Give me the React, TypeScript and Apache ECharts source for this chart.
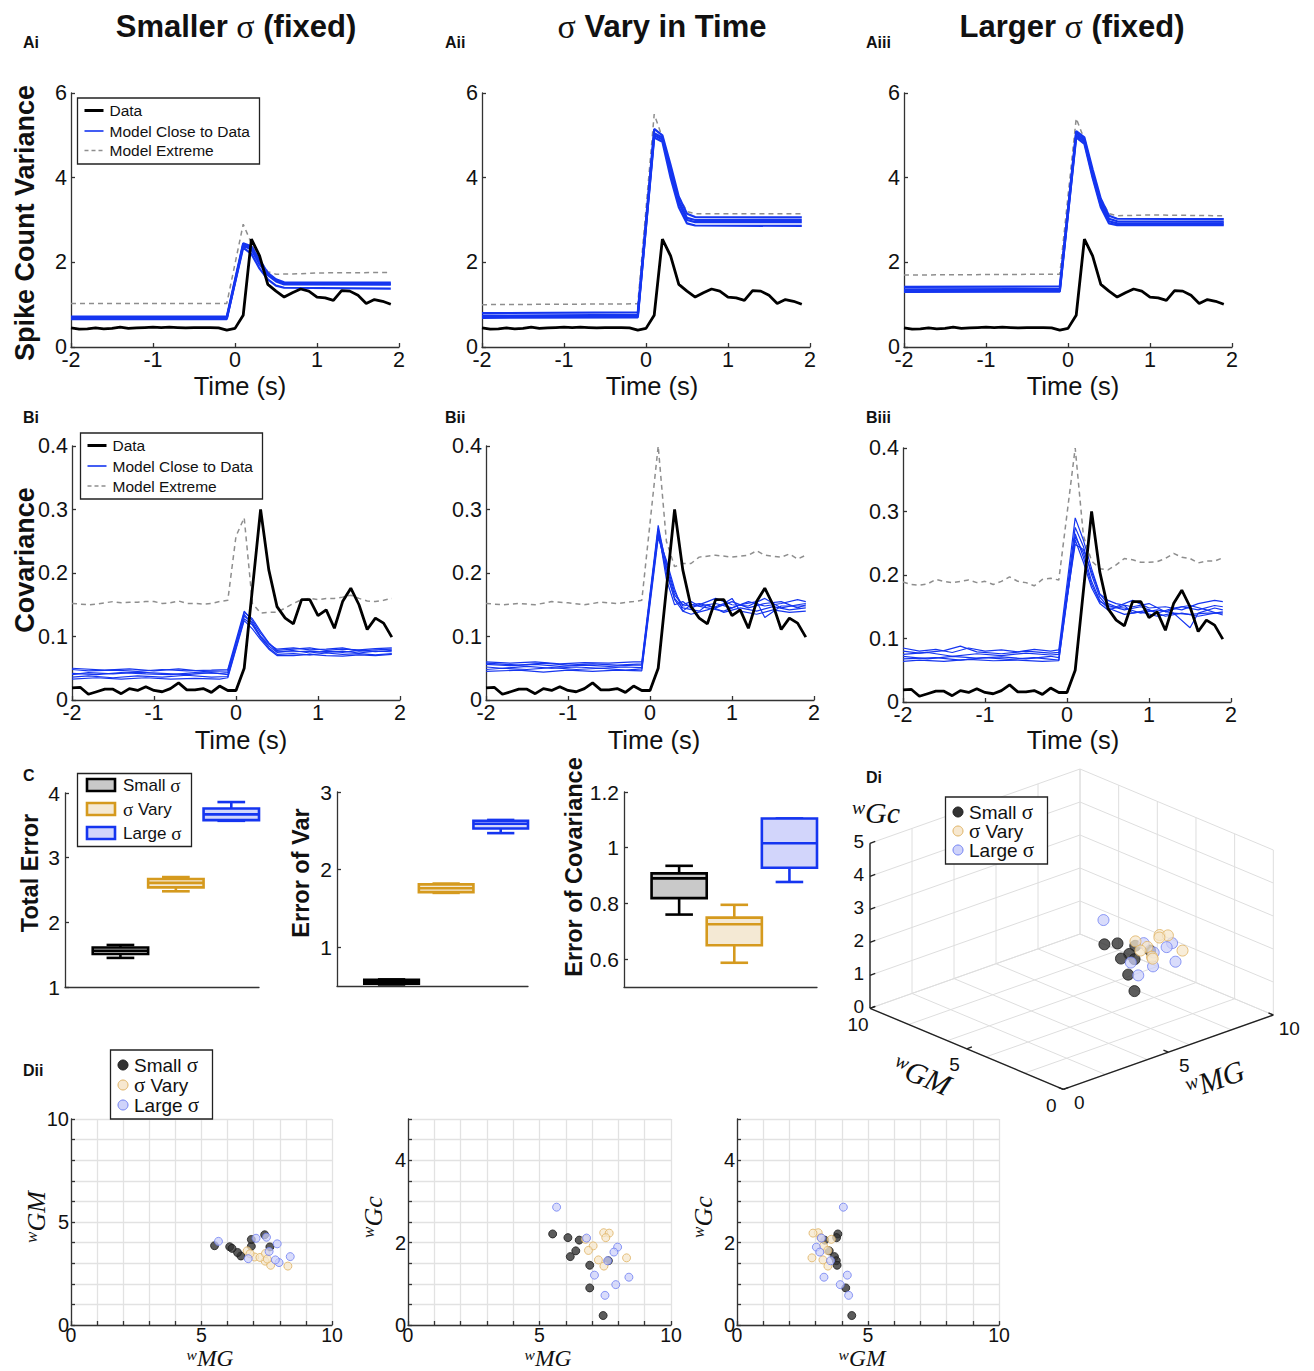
import React, { useEffect, useRef } from "react";
import * as echarts from "echarts";

const SANS = "'Liberation Sans', Arial, Helvetica, sans-serif";
const SERIF = "'Liberation Serif', 'Times New Roman', serif";

// ---------------- time axis & data ----------------
const TIME = [-2.0, -1.9, -1.8, -1.7, -1.6, -1.5, -1.4, -1.3, -1.2, -1.1, -1.0, -0.9, -0.8, -0.7, -0.6, -0.5, -0.4, -0.3, -0.2, -0.1,
  0.0, 0.1, 0.2, 0.3, 0.4, 0.5, 0.6, 0.7, 0.8, 0.9, 1.0, 1.1, 1.2, 1.3, 1.4, 1.5, 1.6, 1.7, 1.8, 1.9];

const VAR_DATA = [0.45, 0.42, 0.43, 0.45, 0.43, 0.44, 0.47, 0.44, 0.45, 0.46, 0.47, 0.46, 0.47, 0.46, 0.45, 0.46, 0.46, 0.46, 0.45, 0.40,
  0.44, 0.75, 2.55, 2.15, 1.48, 1.32, 1.18, 1.28, 1.37, 1.32, 1.18, 1.16, 1.10, 1.33, 1.32, 1.22, 1.03, 1.12, 1.08, 1.01];

const COV_DATA = [0.019, 0.02, 0.009, 0.013, 0.017, 0.017, 0.01, 0.018, 0.015, 0.021, 0.015, 0.013, 0.018, 0.027, 0.016, 0.016, 0.018, 0.012, 0.022, 0.015,
  0.015, 0.05, 0.175, 0.30, 0.205, 0.147, 0.129, 0.12, 0.158, 0.158, 0.133, 0.142, 0.113, 0.155, 0.176, 0.15, 0.111, 0.129, 0.121, 0.099];

// variance: model curves ([time, value] vertices)
const VAR_MODEL_SMALL = [
  [[-2, 0.72], [-0.1, 0.72], [0.1, 2.45], [0.2, 2.38], [0.3, 2.05], [0.4, 1.75], [0.5, 1.6], [0.6, 1.53], [0.8, 1.52], [1.9, 1.52]],
  [[-2, 0.66], [-0.1, 0.66], [0.1, 2.4], [0.2, 2.3], [0.3, 1.95], [0.4, 1.7], [0.5, 1.55], [0.6, 1.48], [1.9, 1.47]],
  [[-2, 0.69], [-0.1, 0.69], [0.1, 2.42], [0.2, 2.35], [0.3, 2.0], [0.4, 1.72], [0.5, 1.58], [0.6, 1.5], [1.9, 1.49]],
  [[-2, 0.68], [-0.1, 0.68], [0.1, 2.35], [0.2, 2.2], [0.3, 1.85], [0.4, 1.6], [0.5, 1.45], [0.6, 1.4], [1.9, 1.38]],
];
const VAR_EXTREME_SMALL = [[-2, 1.03], [-0.1, 1.03], [0.1, 2.9], [0.2, 2.45], [0.3, 2.05], [0.4, 1.78], [0.5, 1.72], [0.8, 1.73], [1.0, 1.75], [1.9, 1.76]];

const VAR_MODEL_VARY = [
  [[-2, 0.8], [-0.1, 0.82], [0.1, 5.15], [0.2, 5.0], [0.3, 4.3], [0.4, 3.55], [0.5, 3.15], [0.6, 3.07], [1.9, 3.06]],
  [[-2, 0.74], [-0.1, 0.76], [0.1, 5.05], [0.2, 4.95], [0.3, 4.2], [0.4, 3.45], [0.5, 3.05], [0.6, 3.0], [1.9, 3.0]],
  [[-2, 0.69], [-0.1, 0.7], [0.1, 5.0], [0.2, 4.9], [0.3, 4.15], [0.4, 3.4], [0.5, 3.0], [0.6, 2.95], [1.9, 2.95]],
  [[-2, 0.72], [-0.1, 0.73], [0.1, 4.95], [0.2, 4.85], [0.3, 4.0], [0.4, 3.3], [0.5, 2.92], [0.6, 2.87], [1.9, 2.86]],
];
const VAR_EXTREME_VARY = [[-2, 1.0], [-0.1, 1.02], [0.1, 5.5], [0.2, 4.95], [0.3, 4.2], [0.4, 3.55], [0.5, 3.2], [0.6, 3.15], [1.9, 3.15]];

const VAR_MODEL_LARGE = [
  [[-2, 1.42], [-0.1, 1.43], [0.1, 5.1], [0.2, 4.95], [0.3, 4.2], [0.4, 3.5], [0.5, 3.1], [0.6, 3.03], [1.9, 3.02]],
  [[-2, 1.36], [-0.1, 1.37], [0.1, 5.05], [0.2, 4.9], [0.3, 4.1], [0.4, 3.42], [0.5, 3.03], [0.6, 2.97], [1.9, 2.96]],
  [[-2, 1.3], [-0.1, 1.31], [0.1, 5.0], [0.2, 4.85], [0.3, 4.05], [0.4, 3.35], [0.5, 2.97], [0.6, 2.92], [1.9, 2.92]],
  [[-2, 1.33], [-0.1, 1.34], [0.1, 4.95], [0.2, 4.8], [0.3, 4.0], [0.4, 3.3], [0.5, 2.92], [0.6, 2.88], [1.9, 2.88]],
];
const VAR_EXTREME_LARGE = [[-2, 1.7], [-0.1, 1.72], [0.1, 5.4], [0.2, 4.9], [0.3, 4.15], [0.4, 3.5], [0.5, 3.15], [0.6, 3.1], [1.0, 3.12], [1.9, 3.1]];

// covariance: model curves
const COV_MODEL_SMALL = [
  [[-2, 0.048], [-1.8, 0.046], [-1.5, 0.047], [-1.2, 0.045], [-0.9, 0.048], [-0.6, 0.046], [-0.3, 0.047], [-0.1, 0.048], [0.1, 0.14], [0.2, 0.125], [0.3, 0.105], [0.4, 0.09], [0.5, 0.078], [0.7, 0.08], [0.9, 0.082], [1.1, 0.078], [1.3, 0.08], [1.5, 0.079], [1.7, 0.081], [1.9, 0.082]],
  [[-2, 0.042], [-1.7, 0.04], [-1.4, 0.043], [-1.1, 0.041], [-0.8, 0.04], [-0.5, 0.043], [-0.2, 0.042], [-0.1, 0.043], [0.1, 0.135], [0.2, 0.12], [0.3, 0.1], [0.4, 0.085], [0.5, 0.075], [0.7, 0.078], [0.9, 0.074], [1.1, 0.077], [1.3, 0.075], [1.5, 0.078], [1.7, 0.076], [1.9, 0.078]],
  [[-2, 0.036], [-1.8, 0.038], [-1.5, 0.035], [-1.2, 0.038], [-0.9, 0.036], [-0.6, 0.039], [-0.3, 0.036], [-0.1, 0.037], [0.1, 0.128], [0.2, 0.118], [0.3, 0.098], [0.4, 0.082], [0.5, 0.072], [0.7, 0.073], [0.9, 0.071], [1.1, 0.074], [1.3, 0.072], [1.5, 0.073], [1.7, 0.071], [1.9, 0.073]],
  [[-2, 0.05], [-1.6, 0.047], [-1.3, 0.049], [-1.0, 0.046], [-0.7, 0.049], [-0.4, 0.045], [-0.1, 0.046], [0.1, 0.132], [0.2, 0.122], [0.3, 0.1], [0.4, 0.088], [0.5, 0.08], [0.7, 0.082], [0.9, 0.079], [1.1, 0.08], [1.3, 0.082], [1.5, 0.077], [1.7, 0.079], [1.9, 0.08]],
  [[-2, 0.033], [-1.7, 0.035], [-1.4, 0.033], [-1.1, 0.035], [-0.8, 0.033], [-0.5, 0.034], [-0.2, 0.033], [-0.1, 0.035], [0.1, 0.125], [0.2, 0.112], [0.3, 0.095], [0.4, 0.08], [0.5, 0.07], [0.7, 0.07], [0.9, 0.072], [1.1, 0.07], [1.3, 0.069], [1.5, 0.071], [1.7, 0.07], [1.9, 0.072]],
  [[-2, 0.04], [-1.8, 0.043], [-1.5, 0.041], [-1.2, 0.044], [-0.9, 0.042], [-0.6, 0.04], [-0.3, 0.043], [-0.1, 0.04], [0.1, 0.138], [0.2, 0.128], [0.3, 0.108], [0.4, 0.09], [0.5, 0.076], [0.7, 0.076], [0.9, 0.077], [1.1, 0.075], [1.3, 0.077], [1.5, 0.074], [1.7, 0.077], [1.9, 0.076]],
];
const COV_EXTREME_SMALL = [[-2, 0.152], [-1.9, 0.151], [-1.8, 0.15], [-1.7, 0.151], [-1.6, 0.153], [-1.5, 0.155], [-1.4, 0.153], [-1.3, 0.154], [-1.2, 0.154], [-1.1, 0.155], [-1.0, 0.155], [-0.9, 0.152], [-0.8, 0.153], [-0.7, 0.156], [-0.6, 0.152], [-0.5, 0.152], [-0.4, 0.151], [-0.3, 0.152], [-0.2, 0.155], [-0.1, 0.157],
  [0, 0.258], [0.1, 0.287], [0.2, 0.152], [0.3, 0.137], [0.4, 0.138], [0.5, 0.138], [0.6, 0.145], [0.7, 0.152], [0.8, 0.158], [0.9, 0.16], [1.0, 0.158], [1.1, 0.16], [1.2, 0.16], [1.3, 0.162], [1.4, 0.165], [1.5, 0.16], [1.6, 0.156], [1.7, 0.155], [1.8, 0.157], [1.9, 0.16]];

const COV_MODEL_VARY = [
  [[-2, 0.06], [-1.7, 0.058], [-1.4, 0.06], [-1.1, 0.057], [-0.8, 0.059], [-0.5, 0.058], [-0.2, 0.06], [-0.1, 0.06], [0.1, 0.275], [0.2, 0.21], [0.3, 0.165], [0.4, 0.15], [0.5, 0.155], [0.6, 0.148], [0.8, 0.152], [1.0, 0.145], [1.2, 0.155], [1.4, 0.148], [1.6, 0.152], [1.8, 0.158], [1.9, 0.155]],
  [[-2, 0.052], [-1.8, 0.05], [-1.5, 0.053], [-1.2, 0.05], [-0.9, 0.052], [-0.6, 0.05], [-0.3, 0.052], [-0.1, 0.051], [0.1, 0.265], [0.2, 0.2], [0.3, 0.16], [0.4, 0.145], [0.6, 0.14], [0.7, 0.15], [0.9, 0.138], [1.1, 0.145], [1.3, 0.14], [1.5, 0.147], [1.7, 0.142], [1.9, 0.145]],
  [[-2, 0.045], [-1.6, 0.047], [-1.3, 0.044], [-1.0, 0.047], [-0.7, 0.045], [-0.4, 0.047], [-0.1, 0.046], [0.1, 0.255], [0.2, 0.22], [0.3, 0.175], [0.4, 0.14], [0.5, 0.135], [0.7, 0.142], [0.9, 0.152], [1.0, 0.16], [1.1, 0.14], [1.3, 0.135], [1.5, 0.142], [1.7, 0.138], [1.9, 0.14]],
  [[-2, 0.056], [-1.7, 0.054], [-1.4, 0.056], [-1.1, 0.053], [-0.8, 0.055], [-0.5, 0.053], [-0.2, 0.055], [-0.1, 0.055], [0.1, 0.27], [0.2, 0.19], [0.3, 0.15], [0.4, 0.155], [0.5, 0.145], [0.7, 0.155], [0.8, 0.16], [1.0, 0.15], [1.2, 0.148], [1.4, 0.16], [1.6, 0.145], [1.8, 0.15], [1.9, 0.152]],
  [[-2, 0.048], [-1.8, 0.05], [-1.5, 0.048], [-1.2, 0.051], [-0.9, 0.048], [-0.6, 0.05], [-0.3, 0.047], [-0.1, 0.049], [0.1, 0.26], [0.2, 0.205], [0.3, 0.158], [0.4, 0.14], [0.5, 0.15], [0.7, 0.145], [0.9, 0.14], [1.1, 0.15], [1.3, 0.155], [1.4, 0.13], [1.6, 0.148], [1.9, 0.148]],
  [[-2, 0.058], [-1.6, 0.055], [-1.3, 0.058], [-1.0, 0.055], [-0.7, 0.057], [-0.4, 0.055], [-0.1, 0.057], [0.1, 0.268], [0.2, 0.215], [0.3, 0.17], [0.4, 0.148], [0.6, 0.152], [0.8, 0.145], [1.0, 0.155], [1.2, 0.145], [1.4, 0.152], [1.6, 0.155], [1.8, 0.145], [1.9, 0.15]],
];
const COV_EXTREME_VARY = [[-2, 0.152], [-1.8, 0.15], [-1.6, 0.152], [-1.4, 0.15], [-1.2, 0.155], [-1.0, 0.153], [-0.8, 0.15], [-0.6, 0.154], [-0.4, 0.152], [-0.2, 0.155], [-0.1, 0.157],
  [0.1, 0.4], [0.2, 0.25], [0.3, 0.21], [0.4, 0.215], [0.5, 0.215], [0.6, 0.225], [0.8, 0.228], [1.0, 0.225], [1.2, 0.228], [1.3, 0.235], [1.4, 0.228], [1.6, 0.225], [1.7, 0.23], [1.8, 0.222], [1.9, 0.228]];

const COV_MODEL_LARGE = [
  [[-2, 0.085], [-1.8, 0.08], [-1.6, 0.083], [-1.4, 0.078], [-1.2, 0.085], [-1.0, 0.08], [-0.8, 0.082], [-0.6, 0.079], [-0.4, 0.083], [-0.2, 0.08], [-0.1, 0.082], [0.1, 0.29], [0.2, 0.255], [0.3, 0.21], [0.4, 0.17], [0.5, 0.155], [0.6, 0.15], [0.8, 0.16], [1.0, 0.148], [1.2, 0.15], [1.4, 0.145], [1.6, 0.155], [1.8, 0.16], [1.9, 0.158]],
  [[-2, 0.075], [-1.7, 0.078], [-1.4, 0.072], [-1.1, 0.076], [-0.8, 0.073], [-0.5, 0.077], [-0.2, 0.074], [-0.1, 0.075], [0.1, 0.275], [0.2, 0.245], [0.3, 0.2], [0.4, 0.165], [0.5, 0.15], [0.7, 0.148], [0.9, 0.14], [1.1, 0.145], [1.3, 0.14], [1.5, 0.117], [1.6, 0.14], [1.8, 0.148], [1.9, 0.145]],
  [[-2, 0.068], [-1.6, 0.07], [-1.3, 0.066], [-1.0, 0.07], [-0.7, 0.067], [-0.4, 0.07], [-0.1, 0.066], [0.1, 0.26], [0.2, 0.235], [0.3, 0.19], [0.4, 0.16], [0.5, 0.148], [0.7, 0.138], [0.9, 0.142], [1.1, 0.135], [1.3, 0.14], [1.5, 0.138], [1.7, 0.14], [1.9, 0.14]],
  [[-2, 0.08], [-1.8, 0.077], [-1.5, 0.081], [-1.3, 0.088], [-1.1, 0.079], [-0.8, 0.076], [-0.5, 0.08], [-0.2, 0.077], [-0.1, 0.078], [0.1, 0.248], [0.2, 0.24], [0.3, 0.205], [0.4, 0.17], [0.5, 0.16], [0.6, 0.155], [0.8, 0.15], [1.0, 0.155], [1.2, 0.142], [1.4, 0.15], [1.6, 0.145], [1.8, 0.152], [1.9, 0.15]],
  [[-2, 0.072], [-1.7, 0.068], [-1.4, 0.072], [-1.1, 0.069], [-0.8, 0.071], [-0.5, 0.068], [-0.2, 0.072], [-0.1, 0.07], [0.1, 0.265], [0.2, 0.228], [0.3, 0.185], [0.4, 0.158], [0.5, 0.152], [0.7, 0.145], [0.9, 0.15], [1.1, 0.14], [1.3, 0.148], [1.5, 0.152], [1.7, 0.145], [1.9, 0.137]],
  [[-2, 0.064], [-1.8, 0.066], [-1.5, 0.064], [-1.2, 0.067], [-0.9, 0.065], [-0.6, 0.066], [-0.3, 0.064], [-0.1, 0.065], [0.1, 0.255], [0.2, 0.22], [0.3, 0.18], [0.4, 0.155], [0.5, 0.145], [0.7, 0.152], [0.8, 0.14], [1.0, 0.145], [1.2, 0.135], [1.4, 0.14], [1.6, 0.135], [1.8, 0.14], [1.9, 0.142]],
];
const COV_EXTREME_LARGE = [[-2, 0.189], [-1.9, 0.185], [-1.8, 0.184], [-1.7, 0.186], [-1.6, 0.193], [-1.5, 0.19], [-1.4, 0.188], [-1.3, 0.19], [-1.2, 0.192], [-1.1, 0.188], [-1.0, 0.19], [-0.9, 0.185], [-0.8, 0.19], [-0.7, 0.197], [-0.6, 0.19], [-0.5, 0.188], [-0.4, 0.183], [-0.3, 0.193], [-0.2, 0.195], [-0.1, 0.192],
  [0.1, 0.4], [0.2, 0.262], [0.3, 0.222], [0.4, 0.21], [0.5, 0.208], [0.6, 0.216], [0.7, 0.226], [0.8, 0.224], [0.9, 0.22], [1.0, 0.22], [1.1, 0.221], [1.2, 0.226], [1.3, 0.234], [1.4, 0.228], [1.5, 0.226], [1.6, 0.219], [1.7, 0.222], [1.8, 0.222], [1.9, 0.227]];

// box plots: [min, q1, median, q3, max]
const TOTAL_ERR_SMALL = [1.45, 1.51, 1.56, 1.61, 1.65];
const TOTAL_ERR_VARY = [2.48, 2.54, 2.61, 2.67, 2.70];
const TOTAL_ERR_LARGE = [3.57, 3.58, 3.67, 3.76, 3.86];
const VAR_ERR_SMALL = [0.52, 0.53, 0.555, 0.58, 0.585];
const VAR_ERR_VARY = [1.70, 1.71, 1.76, 1.81, 1.82];
const VAR_ERR_LARGE = [2.47, 2.53, 2.59, 2.63, 2.64];
const COV_ERR_SMALL = [0.76, 0.819, 0.89, 0.908, 0.935];
const COV_ERR_VARY = [0.587, 0.65, 0.725, 0.749, 0.795];
const COV_ERR_LARGE = [0.877, 0.928, 1.016, 1.105, 1.105];

// fitted weights
const SMALL_MG = [5.50, 6.08, 6.51, 6.38, 6.17, 7.62, 6.91, 6.91, 7.42];
const SMALL_GM = [3.85, 3.80, 3.35, 3.52, 3.72, 3.79, 3.82, 4.15, 4.38];
const SMALL_GC = [2.21, 2.12, 2.06, 1.80, 1.66, 1.56, 1.45, 0.90, 0.23];
const VARY_MG = [7.44, 7.65, 6.75, 7.04, 6.86, 7.24, 7.45, 8.31, 7.52];
const VARY_GM = [3.10, 2.90, 3.60, 3.30, 3.46, 3.28, 3.47, 2.86, 3.20];
const VARY_GC = [2.24, 2.23, 2.08, 1.92, 1.81, 1.58, 1.43, 1.63, 2.12];
const LARGE_MG = [5.65, 6.79, 7.97, 7.83, 7.59, 7.09, 8.40, 7.90, 7.49];
const LARGE_GM = [4.06, 3.22, 3.03, 3.16, 3.57, 4.21, 3.32, 3.94, 4.26];
const LARGE_GC = [2.86, 2.11, 1.89, 1.77, 1.56, 1.21, 1.16, 0.98, 0.72];

const W_TICKS = [0, 2, 4, 6, 8, 10];
const GC_TICKS = [0, 1, 2, 3, 4, 5];
const W_LABELS = [0, 5, 10];

// ---------------- styles ----------------
const BLUE = "#1535f0";
const GREY = "#8e8e8e";
const BOX_STYLE = [
  { stroke: "#000000", fill: "#c9c9c9" },
  { stroke: "#d59a1e", fill: "#f4e9d4" },
  { stroke: "#1535f0", fill: "#d2d5fb" },
];
const DOT_STYLE = [
  { color: "#333333", borderColor: "#1a1a1a" },
  { color: "rgba(246,230,204,0.92)", borderColor: "#e0b363" },
  { color: "rgba(203,207,250,0.92)", borderColor: "#6f80f3" },
];

// 3D projection (oblique view of panel Di), in the hidden pixel-scaled grid
const PJ = { ox: 233.3, oy: 329.3, mgx: 21.0, mgy: -7.43, gmx: -19.33, gmy: -8.1, gcy: -33.0 };
const proj = (mg: number, gm: number, gc: number) => [
  PJ.ox + mg * PJ.mgx + gm * PJ.gmx,
  PJ.oy + mg * PJ.mgy + gm * PJ.gmy + gc * PJ.gcy,
];
const DI_LEFT = 830, DI_TOP = 760;

function buildOption() {
  const grids: any[] = [];
  const xAxes: any[] = [];
  const yAxes: any[] = [];
  const series: any[] = [];
  const graphics: any[] = [];

  const axisLineStyle = { color: "#333", width: 1.3 };
  const lbl = (size: number, extra: any = {}) => ({ fontSize: size, color: "#111", fontFamily: SANS, ...extra });

  const addGrid = (left: number, top: number, width: number, height: number) => {
    grids.push({ left, top, width, height, outerBoundsMode: "none", containLabel: false });
    return grids.length - 1;
  };

  // ---- A and B panels ----
  const A_POS = [[71, 93], [482, 93], [904, 93]];
  const B_POS = [[72, 446], [486, 446], [903, 448]];
  const VAR_MODELS = [VAR_MODEL_SMALL, VAR_MODEL_VARY, VAR_MODEL_LARGE];
  const VAR_EXTREMES = [VAR_EXTREME_SMALL, VAR_EXTREME_VARY, VAR_EXTREME_LARGE];
  const COV_MODELS = [COV_MODEL_SMALL, COV_MODEL_VARY, COV_MODEL_LARGE];
  const COV_EXTREMES = [COV_EXTREME_SMALL, COV_EXTREME_VARY, COV_EXTREME_LARGE];

  const timeXAxis = (gi: number) => ({
    type: "value", gridIndex: gi, min: -2, max: 2, interval: 1,
    axisLine: { show: true, lineStyle: axisLineStyle, onZero: false },
    axisTick: { show: true, inside: true, length: 4, lineStyle: axisLineStyle },
    axisLabel: lbl(21.5, { margin: 2 }),
    splitLine: { show: false },
  });

  const addTimePanel = (pos: number[], isVar: boolean, models: any[], extreme: any[], data: number[]) => {
    const gi = addGrid(pos[0], pos[1], 328, 254);
    xAxes.push(timeXAxis(gi));
    yAxes.push({
      type: "value", gridIndex: gi, min: 0, max: isVar ? 6 : 0.4, interval: isVar ? 2 : 0.1,
      axisLine: { show: true, lineStyle: axisLineStyle, onZero: false },
      axisTick: { show: true, inside: true, length: 4, lineStyle: axisLineStyle },
      axisLabel: lbl(21.5, { margin: 4, formatter: (v: number) => (isVar ? String(v) : v === 0 ? "0" : v.toFixed(1)) }),
      splitLine: { show: false },
    });
    series.push({
      type: "line", xAxisIndex: gi, yAxisIndex: gi, data: extreme, symbol: "none", silent: true,
      lineStyle: { color: GREY, width: 1.5, type: [5, 4] }, z: 2,
    });
    models.forEach((m: any) => {
      series.push({
        type: "line", xAxisIndex: gi, yAxisIndex: gi, data: m, symbol: "none", silent: true,
        lineStyle: { color: BLUE, width: isVar ? 2.2 : 1.2 }, z: 3,
      });
    });
    series.push({
      type: "line", xAxisIndex: gi, yAxisIndex: gi, data: TIME.map((t, i) => [t, data[i]]), symbol: "none", silent: true,
      lineStyle: { color: "#000", width: 2.8 }, z: 4,
    });
  };

  for (let p = 0; p < 3; p++) addTimePanel(A_POS[p], true, VAR_MODELS[p], VAR_EXTREMES[p], VAR_DATA);
  for (let p = 0; p < 3; p++) addTimePanel(B_POS[p], false, COV_MODELS[p], COV_EXTREMES[p], COV_DATA);

  // ---- C panels (box plots) ----
  const boxPanel = (left: number, top: number, w: number, h: number, ymin: number, ymax: number, ticks: number[], rows: number[][]) => {
    const gi = addGrid(left, top, w, h);
    xAxes.push({
      type: "value", gridIndex: gi, min: 0, max: 3.5,
      axisLine: { show: true, lineStyle: axisLineStyle }, axisTick: { show: false }, axisLabel: { show: false }, splitLine: { show: false },
    });
    yAxes.push({
      type: "value", gridIndex: gi, min: ymin, max: ymax,
      axisLine: { show: true, lineStyle: axisLineStyle, onZero: false },
      axisTick: { show: true, inside: true, length: 4, lineStyle: axisLineStyle, customValues: ticks },
      axisLabel: lbl(21, { margin: 5, customValues: ticks, formatter: (v: number) => String(Math.round(v * 10) / 10) }),
      splitLine: { show: false },
    });
    series.push({
      type: "custom", xAxisIndex: gi, yAxisIndex: gi, clip: false, silent: true,
      data: rows.map((r, i) => [i + 1, ...r, i]),
      renderItem: (params: any, api: any) => {
        const x = api.value(0);
        const s = BOX_STYLE[api.value(6)];
        const tl = api.coord([x - 0.5, api.value(4)]);
        const br = api.coord([x + 0.5, api.value(2)]);
        const top = api.coord([x, api.value(5)]);
        const bot = api.coord([x, api.value(1)]);
        const med = api.coord([x, api.value(3)]);
        const cl = api.coord([x - 0.25, ymin])[0];
        const cr = api.coord([x + 0.25, ymin])[0];
        const st = { stroke: s.stroke, lineWidth: 2.6, fill: null };
        return {
          type: "group",
          children: [
            { type: "line", shape: { x1: top[0], y1: top[1], x2: top[0], y2: tl[1] }, style: st },
            { type: "line", shape: { x1: bot[0], y1: br[1], x2: bot[0], y2: bot[1] }, style: st },
            { type: "line", shape: { x1: cl, y1: top[1], x2: cr, y2: top[1] }, style: st },
            { type: "line", shape: { x1: cl, y1: bot[1], x2: cr, y2: bot[1] }, style: st },
            { type: "rect", shape: { x: tl[0], y: tl[1], width: br[0] - tl[0], height: br[1] - tl[1] }, style: { fill: s.fill, stroke: s.stroke, lineWidth: 2.6 } },
            { type: "line", shape: { x1: tl[0], y1: med[1], x2: br[0], y2: med[1] }, style: st },
          ],
        };
      },
    });
  };
  boxPanel(65, 793, 194, 194, 1, 4, [1, 2, 3, 4], [TOTAL_ERR_SMALL, TOTAL_ERR_VARY, TOTAL_ERR_LARGE]);
  boxPanel(337, 792, 191, 194, 0.5, 3, [1, 2, 3], [VAR_ERR_SMALL, VAR_ERR_VARY, VAR_ERR_LARGE]);
  boxPanel(624, 792, 193, 195, 0.5, 1.2, [0.6, 0.8, 1, 1.2], [COV_ERR_SMALL, COV_ERR_VARY, COV_ERR_LARGE]);

  // ---- Di (3D projected) ----
  const gDi = addGrid(DI_LEFT, DI_TOP, 484, 360);
  xAxes.push({ type: "value", gridIndex: gDi, min: 0, max: 484, show: false });
  yAxes.push({ type: "value", gridIndex: gDi, min: 0, max: 360, inverse: true, show: false });
  const segs: number[][] = [];
  W_TICKS.forEach((v) => {
    segs.push([...proj(v, 0, 0), ...proj(v, 10, 0), 0]);
    segs.push([...proj(0, v, 0), ...proj(10, v, 0), 0]);
    segs.push([...proj(v, 10, 0), ...proj(v, 10, 5), 0]);
    segs.push([...proj(10, v, 0), ...proj(10, v, 5), 0]);
  });
  GC_TICKS.forEach((k) => {
    segs.push([...proj(0, 10, k), ...proj(10, 10, k), 0]);
    segs.push([...proj(10, 0, k), ...proj(10, 10, k), 0]);
  });
  segs.push([...proj(0, 10, 0), ...proj(0, 10, 5), 1]);
  segs.push([...proj(0, 10, 0), ...proj(0, 0, 0), 1]);
  segs.push([...proj(0, 0, 0), ...proj(10, 0, 0), 1]);
  GC_TICKS.forEach((k) => segs.push([...proj(0, 10, k), ...proj(0.25, 10, k), 1]));
  W_LABELS.forEach((v) => {
    segs.push([...proj(0, v, 0), ...proj(0.25, v, 0), 1]);
    segs.push([...proj(v, 0, 0), ...proj(v, 0.25, 0), 1]);
  });
  series.push({
    type: "custom", xAxisIndex: gDi, yAxisIndex: gDi, clip: false, silent: true, data: segs,
    renderItem: (params: any, api: any) => {
      const a = api.coord([api.value(0), api.value(1)]);
      const b = api.coord([api.value(2), api.value(3)]);
      const dark = api.value(4) === 1;
      return {
        type: "line", shape: { x1: a[0], y1: a[1], x2: b[0], y2: b[1] },
        style: { stroke: dark ? "#222" : "#dedede", lineWidth: dark ? 1.4 : 1 },
      };
    },
  });
  const groups = [
    [SMALL_MG, SMALL_GM, SMALL_GC, 0],
    [LARGE_MG, LARGE_GM, LARGE_GC, 2],
    [VARY_MG, VARY_GM, VARY_GC, 1],
  ];
  groups.forEach((g: any) => {
    series.push({
      type: "scatter", xAxisIndex: gDi, yAxisIndex: gDi, silent: true, symbol: "circle", symbolSize: 11,
      data: g[0].map((mg: number, i: number) => proj(mg, g[1][i], g[2][i])),
      itemStyle: { ...DOT_STYLE[g[3]], borderWidth: 1 }, z: 5,
    });
  });

  // ---- Dii 2D projections ----
  const dGrid = (left: number, width: number, ymax: number, yStep: number, yLabels: number[], xs: number, ys: number) => {
    const gi = addGrid(left, 1119, width, 206);
    const split = { show: true, lineStyle: { color: "#e2e2e2", width: 1.3 } };
    xAxes.push({
      type: "value", gridIndex: gi, min: 0, max: 10, interval: 1,
      axisLine: { show: true, lineStyle: axisLineStyle, onZero: false },
      axisTick: { show: true, inside: true, length: 4, lineStyle: axisLineStyle },
      axisLabel: lbl(19.5, { margin: 0, formatter: (v: number) => (W_LABELS.includes(v) ? String(v) : "") }),
      splitLine: split,
    });
    yAxes.push({
      type: "value", gridIndex: gi, min: 0, max: ymax, interval: yStep,
      axisLine: { show: true, lineStyle: axisLineStyle, onZero: false },
      axisTick: { show: true, inside: true, length: 4, lineStyle: axisLineStyle },
      axisLabel: lbl(20, { margin: 2, formatter: (v: number) => (yLabels.includes(v) ? String(v) : "") }),
      splitLine: split,
    });
    [[SMALL_MG, SMALL_GM, SMALL_GC, 0], [VARY_MG, VARY_GM, VARY_GC, 1], [LARGE_MG, LARGE_GM, LARGE_GC, 2]].forEach((g: any) => {
      series.push({
        type: "scatter", xAxisIndex: gi, yAxisIndex: gi, silent: true, symbol: "circle", symbolSize: 8,
        data: g[0].map((_: number, i: number) => [g[xs][i], g[ys][i]]),
        itemStyle: { ...DOT_STYLE[g[3]], borderWidth: 1 }, z: 5,
      });
    });
  };
  dGrid(71, 261, 10, 1, [0, 5, 10], 0, 1);
  dGrid(408, 263, 5, 0.5, [0, 2, 4], 0, 2);
  dGrid(737, 262, 5, 0.5, [0, 2, 4], 1, 2);

  // ---------------- graphics: titles, labels, legends ----------------
  const txt = (x: number, y: number, text: string, size: number, o: any = {}) => ({
    type: "text", x, y, rotation: o.rotation || 0, silent: true, z: 10,
    style: {
      text, fontSize: size, fontFamily: o.family || SANS, fontWeight: o.weight || "normal", fontStyle: o.style || "normal",
      fill: "#111", align: o.align || "center", verticalAlign: o.va || "middle", rich: o.rich,
    },
  });
  const titleRich = {
    b: { fontSize: 31, fontWeight: "bold", fontFamily: SANS, fill: "#111" },
    s: { fontSize: 34, fontFamily: SERIF, fill: "#111" },
  };
  graphics.push(txt(236, 26, "{b|Smaller }{s|σ}{b| (fixed)}", 31, { rich: titleRich }));
  graphics.push(txt(662, 26, "{s|σ}{b| Vary in Time}", 31, { rich: titleRich }));
  graphics.push(txt(1072, 26, "{b|Larger }{s|σ}{b| (fixed)}", 31, { rich: titleRich }));

  const panelLbl = (x: number, y: number, t: string) => graphics.push(txt(x, y, t, 16, { weight: "bold", align: "left" }));
  panelLbl(23, 42, "Ai"); panelLbl(445, 42, "Aii"); panelLbl(866, 42, "Aiii");
  panelLbl(23, 417, "Bi"); panelLbl(445, 417, "Bii"); panelLbl(866, 417, "Biii");
  panelLbl(23, 775, "C"); panelLbl(866, 777, "Di"); panelLbl(23, 1070, "Dii");

  graphics.push(txt(25, 223, "Spike Count Variance", 27, { weight: "bold", rotation: Math.PI / 2 }));
  graphics.push(txt(25, 560, "Covariance", 27, { weight: "bold", rotation: Math.PI / 2 }));
  [240, 652, 1073].forEach((x) => graphics.push(txt(x, 386, "Time (s)", 25.5)));
  [241, 654, 1073].forEach((x) => graphics.push(txt(x, 740, "Time (s)", 25.5)));
  graphics.push(txt(30, 873, "Total Error", 23.5, { weight: "bold", rotation: Math.PI / 2 }));
  graphics.push(txt(301, 873, "Error of Var", 23.5, { weight: "bold", rotation: Math.PI / 2 }));
  graphics.push(txt(574, 867, "Error of Covariance", 23.5, { weight: "bold", rotation: Math.PI / 2 }));

  // w-axis names
  const wName = (x: number, y: number, sub: string, rot = 0, size = 26) =>
    graphics.push(txt(x, y, "{w|w}{m|" + sub + "}", size, {
      rotation: rot,
      rich: {
        w: { fontSize: size * 0.66, fontStyle: "italic", fontFamily: SERIF, fill: "#111", verticalAlign: "top" },
        m: { fontSize: size, fontStyle: "italic", fontFamily: SERIF, fill: "#111" },
      },
    }));
  wName(36, 1217, "GM", Math.PI / 2);
  wName(373, 1217, "Gc", Math.PI / 2);
  wName(703, 1217, "Gc", Math.PI / 2);
  wName(210, 1358, "MG", 0, 23.5);
  wName(548, 1358, "MG", 0, 23.5);
  wName(862, 1358, "GM", 0, 23.5);
  wName(876, 812, "Gc", 0, 30);
  wName(922, 1075, "GM", -0.40, 30);
  wName(1215, 1079, "MG", 0.34, 30);

  // Di tick labels
  GC_TICKS.forEach((k) => {
    const p = proj(0, 10, k);
    graphics.push(txt(DI_LEFT + p[0] - 6, DI_TOP + p[1] - 2, String(k), 19, { align: "right" }));
  });
  W_LABELS.forEach((v) => {
    const a = proj(0, v, 0);
    graphics.push(txt(DI_LEFT + a[0] - 12, DI_TOP + a[1] + 16, String(v), 19));
    const b = proj(v, 0, 0);
    graphics.push(txt(DI_LEFT + b[0] + 16, DI_TOP + b[1] + 13, String(v), 19));
  });

  // Legends for A and B
  const lineLegend = (x: number, y: number, w: number, h: number, rows: number[]) => {
    graphics.push({ type: "rect", shape: { x, y, width: w, height: h }, style: { fill: "#fff", stroke: "#222", lineWidth: 1.3 }, z: 9, silent: true });
    const items = [
      { t: "Data", st: { stroke: "#000", lineWidth: 3 } },
      { t: "Model Close to Data", st: { stroke: BLUE, lineWidth: 1.6 } },
      { t: "Model Extreme", st: { stroke: GREY, lineWidth: 1.5, lineDash: [4, 3] } },
    ];
    items.forEach((it, i) => {
      graphics.push({ type: "line", shape: { x1: x + 7, y1: rows[i], x2: x + 26, y2: rows[i] }, style: it.st, z: 10, silent: true });
      graphics.push(txt(x + 32, rows[i], it.t, 15.5, { align: "left" }));
    });
  };
  lineLegend(77.5, 98, 182, 66, [110.5, 131, 150.5]);
  lineLegend(80.5, 433, 182, 66, [445.5, 466, 486]);

  const sigRich = {
    t: { fontSize: 17, fontFamily: SANS, fill: "#111" },
    s: { fontSize: 19, fontFamily: SERIF, fill: "#111" },
  };
  const names = ["{t|Small }{s|σ}", "{s|σ}{t| Vary}", "{t|Large }{s|σ}"];
  // C legend
  graphics.push({ type: "rect", shape: { x: 77.5, y: 773.5, width: 114, height: 73 }, style: { fill: "#fff", stroke: "#222", lineWidth: 1.3 }, z: 9, silent: true });
  [785, 809, 833].forEach((y, i) => {
    graphics.push({ type: "rect", shape: { x: 87, y: y - 6, width: 28, height: 12 }, style: { fill: BOX_STYLE[i].fill, stroke: BOX_STYLE[i].stroke, lineWidth: 2.6 }, z: 10, silent: true });
    graphics.push(txt(123, y, names[i], 17, { align: "left", rich: sigRich }));
  });
  // dot legends
  const dotLegend = (x: number, y: number, w: number, h: number, rows: number[], mx: number, tx: number, size: number) => {
    graphics.push({ type: "rect", shape: { x, y, width: w, height: h }, style: { fill: "#fff", stroke: "#222", lineWidth: 1.3 }, z: 9, silent: true });
    const r2 = { t: { ...sigRich.t, fontSize: size }, s: { ...sigRich.s, fontSize: size + 2 } };
    rows.forEach((ry, i) => {
      graphics.push({ type: "circle", shape: { cx: mx, cy: ry, r: 5 }, style: { fill: DOT_STYLE[i].color, stroke: DOT_STYLE[i].borderColor, lineWidth: 1 }, z: 10, silent: true });
      graphics.push(txt(tx, ry, names[i], size, { align: "left", rich: r2 }));
    });
  };
  dotLegend(945.5, 797, 102, 67, [812, 831, 850], 958, 969, 19);
  dotLegend(110.5, 1050, 102, 69, [1065, 1085, 1105], 123, 134, 19);

  return {
    animation: false,
    backgroundColor: "#ffffff",
    textStyle: { fontFamily: SANS },
    grid: grids,
    xAxis: xAxes,
    yAxis: yAxes,
    series,
    graphic: graphics,
  };
}

export default function App() {
  const ref = useRef<HTMLDivElement>(null);
  useEffect(() => {
    if (!ref.current) return;
    const chart = echarts.init(ref.current, null, { renderer: "svg" });
    chart.setOption(buildOption() as any);
    return () => chart.dispose();
  }, []);
  return (
    <div
      ref={ref}
      style={{ position: "absolute", left: 0, top: 0, width: 1314, height: 1371, background: "#fff" }}
    />
  );
}
